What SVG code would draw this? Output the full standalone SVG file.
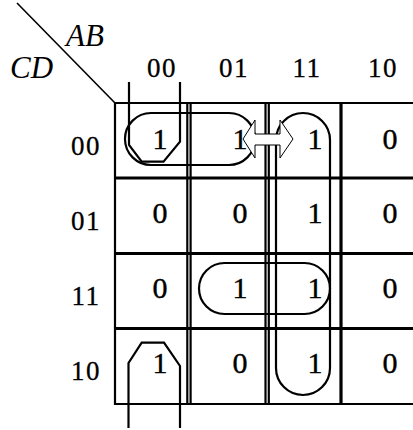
<svg xmlns="http://www.w3.org/2000/svg" width="413" height="430" viewBox="0 0 413 430">
  <style>
    .grid { stroke: #000; fill: none; }
    .loop { stroke: #000; stroke-width: 2.2; fill: none; }
    .cell { font-family: "Liberation Serif", "Times New Roman", serif; font-size: 30px; text-anchor: middle; fill: #000; stroke: #000; stroke-width: 0.4; }
    .head { font-family: "Liberation Serif", "Times New Roman", serif; font-size: 27px; text-anchor: middle; fill: #000; stroke: #000; stroke-width: 0.3; letter-spacing: 1.5px; }
    .var { font-family: "Liberation Serif", "Times New Roman", serif; font-size: 31px; font-style: italic; fill: #000; }
  </style>
  <rect width="413" height="430" fill="#fff"/>

  <!-- corner divider and variable names -->
  <g id="corner">
    <line x1="17" y1="3" x2="115" y2="103" stroke="#000" stroke-width="1.6"/>
    <text class="var" x="66" y="46">AB</text>
    <text class="var" x="10" y="78">CD</text>
  </g>

  <!-- column and row headings -->
  <g id="headings">
    <text class="head" x="162" y="77">00</text>
    <text class="head" x="234" y="77">01</text>
    <text class="head" x="307" y="77">11</text>
    <text class="head" x="383" y="77">10</text>
    <text class="head" x="86" y="155">00</text>
    <text class="head" x="86" y="230">01</text>
    <text class="head" x="86" y="305">11</text>
    <text class="head" x="86" y="380">10</text>
  </g>

  <!-- map grid -->
  <g id="grid" class="grid">
    <line x1="114" y1="103" x2="413" y2="103" stroke-width="2"/>
    <line x1="114" y1="178" x2="413" y2="178" stroke-width="3.2"/>
    <line x1="114" y1="253.5" x2="413" y2="253.5" stroke-width="3.2"/>
    <line x1="114" y1="328.5" x2="413" y2="328.5" stroke-width="3.2"/>
    <line x1="114" y1="404" x2="413" y2="404" stroke-width="2.2"/>
    <line x1="115" y1="102" x2="115" y2="405" stroke-width="2.2"/>
    <line x1="187.3" y1="102" x2="187.3" y2="405" stroke-width="2.2"/>
    <line x1="190.6" y1="102" x2="190.6" y2="405" stroke-width="2.2"/>
    <line x1="265.5" y1="102" x2="265.5" y2="405" stroke-width="2.2"/>
    <line x1="268.8" y1="102" x2="268.8" y2="405" stroke-width="2.2"/>
    <line x1="341" y1="102" x2="341" y2="405" stroke-width="3.2"/>
  </g>

  <!-- groupings of ones -->
  <g id="loops" class="loop">
    <rect id="loop-row0" x="125" y="113" width="130" height="52" rx="26" ry="26"/>
    <rect id="loop-col11" x="276" y="113" width="54" height="282" rx="27" ry="27"/>
    <rect id="loop-row11" x="199" y="263" width="131" height="51" rx="25.5" ry="25.5"/>
    <polyline id="corner-top" points="129,82 129,145 141.7,161.7 163.5,161.7 180,141.7 180,82"/>
    <polyline id="corner-bottom" points="128.5,428 128.5,363 141.7,342.7 164,342.7 180,366 180,428"/>
  </g>

  <!-- double-headed block arrow -->
  <g id="connectors">
    <polygon points="243,139 255,120 255,134 280,134 280,120 293,139 280,158 280,145 255,145 255,158" fill="#fff" stroke="#000" stroke-width="1"/>
  </g>

  <!-- cell values -->
  <g id="cells">
    <g id="r0"><text class="cell" x="160" y="149">1</text><text class="cell" x="240" y="149">1</text><text class="cell" x="315" y="149">1</text><text class="cell" x="390" y="149">0</text></g>
    <g id="r1"><text class="cell" x="160" y="223">0</text><text class="cell" x="240" y="223">0</text><text class="cell" x="315" y="223">1</text><text class="cell" x="390" y="223">0</text></g>
    <g id="r2"><text class="cell" x="160" y="298">0</text><text class="cell" x="240" y="298">1</text><text class="cell" x="315" y="298">1</text><text class="cell" x="390" y="298">0</text></g>
    <g id="r3"><text class="cell" x="160" y="373">1</text><text class="cell" x="240" y="373">0</text><text class="cell" x="315" y="373">1</text><text class="cell" x="390" y="373">0</text></g>
  </g>
</svg>
